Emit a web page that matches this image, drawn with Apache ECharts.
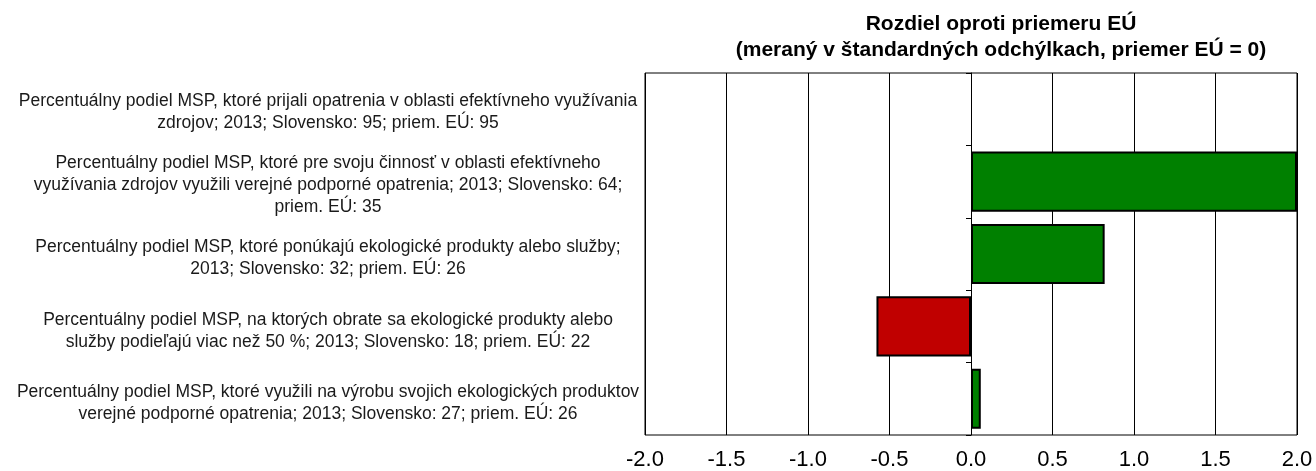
<!DOCTYPE html>
<html><head><meta charset="utf-8">
<script src="https://cdn.jsdelivr.net/npm/echarts@6/dist/echarts.min.js"></script>
<style>html,body{margin:0;padding:0;background:#fff}#c{width:1316px;height:471px}</style>
</head><body><div id="c"></div>
<script>
const categories = [
  "Percentuálny podiel MSP, ktoré prijali opatrenia v oblasti efektívneho využívania\nzdrojov; 2013; Slovensko: 95; priem. EÚ: 95",
  "Percentuálny podiel MSP, ktoré pre svoju činnosť v oblasti efektívneho\nvyužívania zdrojov využili verejné podporné opatrenia; 2013; Slovensko: 64;\npriem. EÚ: 35",
  "Percentuálny podiel MSP, ktoré ponúkajú ekologické produkty alebo služby;\n2013; Slovensko: 32; priem. EÚ: 26",
  "Percentuálny podiel MSP, na ktorých obrate sa ekologické produkty alebo\nslužby podieľajú viac než 50 %; 2013; Slovensko: 18; priem. EÚ: 22",
  "Percentuálny podiel MSP, ktoré využili na výrobu svojich ekologických produktov\nverejné podporné opatrenia; 2013; Slovensko: 27; priem. EÚ: 26"
];
const values = [0, 2.0, 0.82, -0.58, 0.06];
const titleLines = ["Rozdiel oproti priemeru EÚ", "(meraný v štandardných odchýlkach, priemer EÚ = 0)"];

const barData = values.map(v => ({value: v, itemStyle: {borderWidth: v === 0 ? 0 : 2}}));

const chart = echarts.init(document.getElementById('c'));
chart.setOption({
  animation: false,
  title: {
    text: titleLines.join('\n'),
    left: 996, top: 6, textAlign: 'center',
    textStyle: {fontFamily: 'Liberation Sans', fontWeight: 'bold', fontSize: 21, color: '#000', lineHeight: 26}
  },
  grid: [
    {left: 645, right: 19, top: 73, bottom: 34, show: true, borderColor: '#000', borderWidth: 1, containLabel: false},
    {left: 645, right: 19, top: 76, bottom: 31, show: false, containLabel: false}
  ],
  xAxis: [{
    type: 'value', min: -2, max: 2, interval: 0.5, gridIndex: 0,
    axisLine: {show: false}, axisTick: {show: false},
    splitLine: {show: true, lineStyle: {color: '#000', width: 1}},
    axisLabel: {formatter: v => v.toFixed(1), fontFamily: 'Liberation Sans', fontSize: 22, color: '#000', margin: 14}
  }, {
    type: 'value', min: -2, max: 2, gridIndex: 1, show: false
  }],
  yAxis: [{
    type: 'category', inverse: true, data: categories, gridIndex: 1,
    axisLine: {show: false, onZero: false}, axisTick: {show: false}, splitLine: {show: false},
    axisLabel: {align: 'center', margin: 317, fontFamily: 'Liberation Sans', fontSize: 17.5, color: '#1a1a1a', lineHeight: 22}
  }, {
    type: 'category', inverse: true, data: categories, gridIndex: 0,
    axisLine: {show: true, onZero: true, lineStyle: {color: '#000'}},
    axisTick: {show: true, length: 5, lineStyle: {color: '#000'}},
    axisLabel: {show: false}, splitLine: {show: false}
  }],
  series: [{
    type: 'bar', data: barData, barCategoryGap: '17%', xAxisIndex: 0, yAxisIndex: 1,
    itemStyle: {color: p => p.value < 0 ? '#C00000' : '#008000', borderColor: '#000', borderWidth: 2}
  }]
});
</script></body></html>
